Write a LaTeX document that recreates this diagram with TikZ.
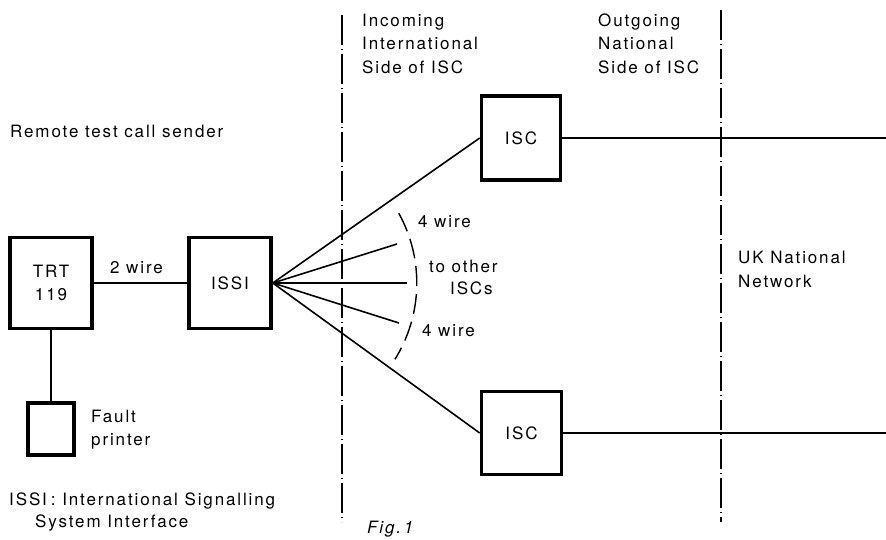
\documentclass[tikz,border=0pt]{standalone}
\usepackage{fontspec}
\setmainfont{TeX Gyre Heros}[LetterSpace=11]
\begin{document}
\begin{tikzpicture}[x=1pt,y=1pt,
  box/.style={draw, line width=3.6pt, minimum width=#1, inner sep=0pt, align=center},
  wire/.style={line width=1.6pt},
  divider/.style={line width=1.2pt, dash pattern=on 30pt off 4pt on 1pt off 4pt},
  arcdash/.style={line width=1.4pt, dash pattern=on 20pt off 8pt},
  lbl/.style={anchor=base west, inner sep=0pt, align=left},
  every node/.style={font=\fontsize{17}{23.5}\selectfont}]
\useasboundingbox (0,0) rectangle (886,-539);
% boxes
\node[box=82pt, minimum height=91pt] (trt) at (51,-283) {TRT\\119};
\node[box=82pt, minimum height=91pt] (issi) at (230,-283) {ISSI};
\node[box=79pt, minimum height=84pt] (isc1) at (521,-138) {ISC};
\node[box=80pt, minimum height=83pt] (isc2) at (521.5,-433) {ISC};
\node[box=46pt, minimum height=52pt] (prn) at (51,-429) {};
% coordinates
\coordinate (e1) at (886,-138);
\coordinate (e2) at (886,-433);
\coordinate (f2) at (397,-244);
\coordinate (f3) at (407,-283);
\coordinate (f4) at (399,-323);
\coordinate (d1a) at (342,-15);
\coordinate (d1b) at (342,-522);
\coordinate (d2a) at (721,-10);
\coordinate (d2b) at (721,-522);
% connectors
\draw[wire] (trt.east) -- (issi.west);
\draw[wire] (trt.south) -- (prn.north);
\draw[wire] (issi.east) -- (isc1.west);
\draw[wire] (issi.east) -- (isc2.west);
\draw[wire] (issi.east) -- (f2);
\draw[wire] (issi.east) -- (f3);
\draw[wire] (issi.east) -- (f4);
\draw[wire] (isc1.east) -- (e1);
\draw[wire] (isc2.east) -- (e2);
% dividers
\draw[divider] (d1a) -- (d1b);
\draw[divider] (d2a) -- (d2b);
% arc
\draw[arcdash] (issi.east) ++(29:144) arc[start angle=29, end angle=-32, radius=144];
% labels (base = baseline of last line)
\node[lbl] (rem) at (10,-137) {Remote test call sender};
\node[lbl] (inc) at (362,-73) {Incoming\\International\\Side of ISC};
\node[lbl] (out) at (598,-73) {Outgoing\\National\\Side of ISC};
\node[lbl] (two) at (110,-273) {2 wire};
\node[lbl] (fw1) at (418,-227) {4 wire};
\node[lbl, font=\fontsize{17}{22}\selectfont] (oth) at (429,-294) {to other\\\hspace*{21pt}ISCs};
\node[lbl] (fw2) at (422,-336) {4 wire};
\node[lbl, font=\fontsize{17}{24}\selectfont] (uk) at (738,-287) {UK National\\Network};
\node[lbl, font=\fontsize{17}{23}\selectfont] (flt) at (91,-445) {Fault\\printer};
\node[lbl, font=\fontsize{17}{22}\selectfont] (key) at (9,-527) {ISSI\hspace{4pt}: International Signalling\\\hspace*{26pt}System Interface};
\node[lbl] (fig) at (367,-533) {\itshape Fig.\,1};
\end{tikzpicture}
\end{document}
